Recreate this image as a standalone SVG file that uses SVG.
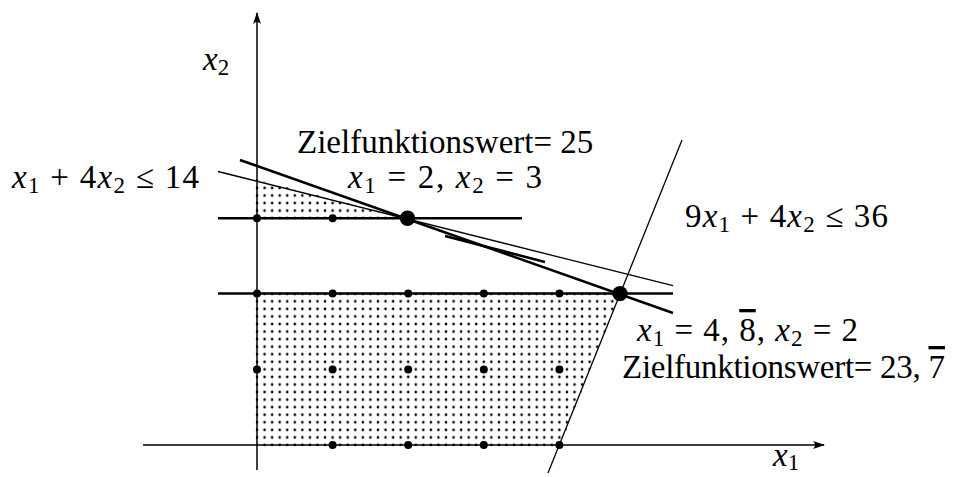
<svg xmlns="http://www.w3.org/2000/svg" width="954" height="477" viewBox="0 0 954 477">
<style>
  text { font-family: "Liberation Serif", "DejaVu Serif", serif; font-size: 33px; fill: #000; }
  .v { font-style: italic; }
  .s { font-size: 23px; }
  .bar { text-decoration: overline; }
  .axis { stroke: #000; stroke-width: 1.5; fill: none; }
  .thick { stroke: #000; stroke-width: 2.5; fill: none; }
  .thin { stroke: #000; stroke-width: 1.3; fill: none; }
  .pt { fill: #000; }
</style>
<defs>
  <pattern id="dots" patternUnits="userSpaceOnUse" x="253.22" y="441.22" width="7.56" height="7.56">
    <circle cx="3.78" cy="3.78" r="1.3" fill="#000"/>
  </pattern>
  <marker id="arr" viewBox="0 0 12 8" refX="11" refY="4" markerWidth="12" markerHeight="8" markerUnits="userSpaceOnUse" orient="auto">
    <path d="M0,0 Q4,4 0,8 L12,4 Z" fill="#000"/>
  </marker>
</defs>

<g id="feasible-region">
  <polygon points="255.5,446.6 560,446.6 620.6,292.5 255.5,292.5" fill="url(#dots)"/>
  <polygon points="255.5,219.5 410,219.5 255.5,179" fill="url(#dots)"/>
</g>

<g id="axes">
  <line class="axis" x1="143" y1="445" x2="824" y2="445" marker-end="url(#arr)"/>
  <line class="axis" x1="257" y1="470" x2="257" y2="13" marker-end="url(#arr)"/>
</g>

<g id="connectors">
  <line class="thick" x1="218" y1="218.2" x2="522" y2="218.2"/>
  <line class="thick" x1="218" y1="293.6" x2="673" y2="293.6"/>
  <line class="thick" x1="240" y1="160" x2="673" y2="313"/>
  <line class="thin" x1="218" y1="171.5" x2="673" y2="285.7"/>
  <line class="thick" x1="445" y1="236" x2="545" y2="262"/>
  <line class="thin" x1="548" y1="473" x2="682" y2="140"/>
</g>

<g id="lattice-points">
  <circle class="pt" cx="332.6" cy="445" r="4"/>
  <circle class="pt" cx="408.2" cy="445" r="4"/>
  <circle class="pt" cx="483.8" cy="445" r="4"/>
  <circle class="pt" cx="559.4" cy="445" r="4"/>
  <circle class="pt" cx="257" cy="369.4" r="4"/>
  <circle class="pt" cx="332.6" cy="369.4" r="4"/>
  <circle class="pt" cx="408.2" cy="369.4" r="4"/>
  <circle class="pt" cx="483.8" cy="369.4" r="4"/>
  <circle class="pt" cx="559.4" cy="369.4" r="4"/>
  <circle class="pt" cx="257" cy="293.6" r="4"/>
  <circle class="pt" cx="332.6" cy="293.6" r="4"/>
  <circle class="pt" cx="408.2" cy="293.6" r="4"/>
  <circle class="pt" cx="483.8" cy="293.6" r="4"/>
  <circle class="pt" cx="559.4" cy="293.6" r="4"/>
  <circle class="pt" cx="257" cy="218.2" r="4"/>
  <circle class="pt" cx="332.6" cy="218.2" r="4"/>
</g>

<g id="optimum-integer">
  <circle class="pt" cx="407.5" cy="218.2" r="7.7"/>
</g>
<g id="optimum-lp">
  <circle class="pt" cx="620" cy="293.6" r="7.7"/>
</g>

<g id="label-x2-axis"><text x="203" y="70"><tspan class="v">x</tspan><tspan class="s" dy="5">2</tspan></text></g>
<g id="label-x1-axis"><text x="773" y="466"><tspan class="v">x</tspan><tspan class="s" dy="4">1</tspan></text></g>
<g id="label-constraint1"><text x="12" y="188" textLength="187" lengthAdjust="spacing"><tspan class="v">x</tspan><tspan class="s" dy="5">1</tspan><tspan dy="-5"> + 4</tspan><tspan class="v">x</tspan><tspan class="s" dy="5">2</tspan><tspan dy="-5"> ≤ 14</tspan></text></g>
<g id="label-constraint2"><text x="685" y="227" textLength="203" lengthAdjust="spacing">9<tspan class="v">x</tspan><tspan class="s" dy="5">1</tspan><tspan dy="-5"> + 4</tspan><tspan class="v">x</tspan><tspan class="s" dy="5">2</tspan><tspan dy="-5"> ≤ 36</tspan></text></g>
<g id="label-integer-opt">
  <text x="297" y="153">Zielfunktionswert= 25</text>
  <text x="348" y="188" textLength="194" lengthAdjust="spacing"><tspan class="v">x</tspan><tspan class="s" dy="5">1</tspan><tspan dy="-5"> = 2, </tspan><tspan class="v">x</tspan><tspan class="s" dy="5">2</tspan><tspan dy="-5"> = 3</tspan></text>
</g>
<g id="label-lp-opt">
  <text x="637" y="341" textLength="221" lengthAdjust="spacing"><tspan class="v">x</tspan><tspan class="s" dy="5">1</tspan><tspan dy="-5"> = 4, </tspan><tspan class="bar">8</tspan>, <tspan class="v">x</tspan><tspan class="s" dy="5">2</tspan><tspan dy="-5"> = 2</tspan></text>
  <text x="622" y="378" textLength="323" lengthAdjust="spacing">Zielfunktionswert= 23, <tspan class="bar">7</tspan></text>
</g>
</svg>
